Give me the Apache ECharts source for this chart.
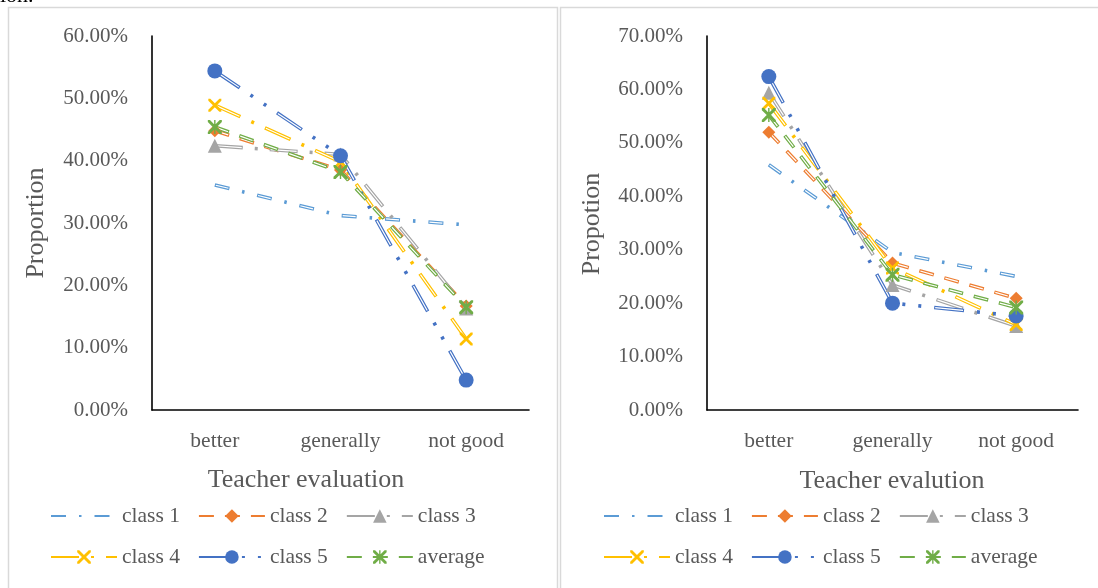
<!DOCTYPE html>
<html>
<head>
<meta charset="utf-8">
<script src="https://cdn.jsdelivr.net/npm/echarts@6/dist/echarts.min.js"></script>
<style>
html,body{margin:0;padding:0;background:#fff;}
#c{width:1098px;height:588px;}
</style>
</head>
<body>
<div id="c"></div>
<script>
// ---------- data ----------
var categories = ['better', 'generally', 'not good'];
var seriesNames = ['class 1', 'class 2', 'class 3', 'class 4', 'class 5', 'average'];

// left chart (Teacher evaluation)
var leftClass1 = [0.361, 0.312, 0.297];
var leftClass2 = [0.448, 0.385, 0.167];
var leftClass3 = [0.424, 0.410, 0.163];
var leftClass4 = [0.489, 0.398, 0.114];
var leftClass5 = [0.544, 0.408, 0.048];
var leftAverage = [0.454, 0.382, 0.165];

// right chart (Teacher evalution)
var rightClass1 = [0.459, 0.295, 0.250];
var rightClass2 = [0.520, 0.275, 0.209];
var rightClass3 = [0.594, 0.234, 0.157];
var rightClass4 = [0.574, 0.266, 0.160];
var rightClass5 = [0.624, 0.200, 0.176];
var rightAverage = [0.552, 0.253, 0.192];

var leftYTicks = [0, 0.1, 0.2, 0.3, 0.4, 0.5, 0.6];
var rightYTicks = [0, 0.1, 0.2, 0.3, 0.4, 0.5, 0.6, 0.7];

// ---------- styles ----------
var FONT = '"Liberation Serif", "Times New Roman", serif';
var TXT = '#595959';
var xPath = 'path://M0,0L3,0L10,7L17,0L20,0L20,3L13,10L20,17L20,20L17,20L10,13L3,20L0,20L0,17L7,10L0,3Z';
var starPath = 'path://M0,0L3,0L10,7L17,0L20,0L20,3L13,10L20,17L20,20L17,20L10,13L3,20L0,20L0,17L7,10L0,3Z M9,0L11,0L11,20L9,20Z';

var styles = [
  {color: '#5B9BD5', dash: [15, 13, 2.5, 13], symbol: 'none', size: 0},
  {color: '#ED7D31', dash: [15, 11], symbol: 'diamond', size: 13},
  {color: '#A5A5A5', dash: [28, 12, 3, 12], symbol: 'triangle', size: 14},
  {color: '#FFC000', dash: [28, 12, 3, 12], symbol: xPath, size: 13},
  {color: '#4472C4', dash: [30, 13, 3, 13, 3, 13], symbol: 'circle', size: 15},
  {color: '#70AD47', dash: [15, 11], symbol: starPath, size: 14}
];

function buildSeries(dataList, idx) {
  var out = [];
  dataList.forEach(function (d, i) {
    var st = styles[i];
    var period = st.dash.reduce(function (a, b) { return a + b; }, 0);
    out.push({
      name: seriesNames[i], type: 'line', xAxisIndex: idx, yAxisIndex: idx,
      data: d, symbol: st.symbol, symbolSize: st.size, showSymbol: st.symbol !== 'none',
      lineStyle: {color: st.color, width: 3.6, type: st.dash},
      itemStyle: {color: st.color, borderWidth: 0},
      emphasis: {disabled: true}, silent: true
    });
    out.push({
      name: seriesNames[i] + '_inner', type: 'line', xAxisIndex: idx, yAxisIndex: idx,
      data: d, symbol: 'none', showSymbol: false,
      lineStyle: {color: '#ffffff', width: 1.2, type: [st.dash[0] - 2, period - st.dash[0] + 2], dashOffset: period - 1},
      emphasis: {disabled: true}, silent: true
    });
  });
  return out;
}

function pct(v) { return (v * 100).toFixed(2) + '%'; }

function yAxis(idx, ticks) {
  return {
    type: 'value', gridIndex: idx, min: ticks[0], max: ticks[ticks.length - 1],
    interval: ticks[1] - ticks[0],
    axisLine: {show: true, lineStyle: {color: '#000', width: 1.6}},
    axisTick: {show: false}, splitLine: {show: false},
    axisLabel: {formatter: pct, fontFamily: FONT, fontSize: 21, color: TXT, margin: 24}
  };
}
function xAxis(idx) {
  return {
    type: 'category', gridIndex: idx, data: categories, boundaryGap: true,
    axisLine: {lineStyle: {color: '#000', width: 1.6}},
    axisTick: {show: false},
    axisLabel: {fontFamily: FONT, fontSize: 21.5, color: TXT, margin: 20}
  };
}
function legendData(names) {
  return names.map(function (n) {
    return n === 'class 1' ? {name: n, itemStyle: {opacity: 0}} : {name: n};
  });
}
function legend(left, top, names) {
  return {
    left: left, top: top, data: legendData(names), itemWidth: 66, itemHeight: 17, itemGap: 18,
    selectedMode: false,
    textStyle: {fontFamily: FONT, fontSize: 21.5, color: TXT}
  };
}

var option = {
  animation: false,
  backgroundColor: '#fff',
  grid: [
    {left: 152, top: 36, width: 377, height: 374},
    {left: 707, top: 36, width: 371, height: 374}
  ],
  xAxis: [xAxis(0), xAxis(1)],
  yAxis: [yAxis(0, leftYTicks), yAxis(1, rightYTicks)],
  legend: [
    legend(45, 500, seriesNames.slice(0, 3)),
    legend(45, 541, seriesNames.slice(3)),
    legend(598, 500, seriesNames.slice(0, 3)),
    legend(598, 541, seriesNames.slice(3))
  ],
  graphic: [
    {type: 'rect', shape: {x: 8.5, y: 7.5, width: 549, height: 620}, style: {fill: 'none', stroke: '#d9d9d9', lineWidth: 1.5}, silent: true},
    {type: 'rect', shape: {x: 560.5, y: 7.5, width: 600, height: 620}, style: {fill: 'none', stroke: '#d9d9d9', lineWidth: 1.5}, silent: true},
    {type: 'text', left: 0, top: -15, style: {text: 'ion.', font: '22px ' + FONT, fill: '#000'}, silent: true},
    {type: 'text', x: 36, y: 223, rotation: Math.PI / 2, style: {text: 'Proportion', font: '26px ' + FONT, fill: TXT, align: 'center', verticalAlign: 'middle'}, silent: true},
    {type: 'text', x: 592, y: 224, rotation: Math.PI / 2, style: {text: 'Propotion', font: '26px ' + FONT, fill: TXT, align: 'center', verticalAlign: 'middle'}, silent: true},
    {type: 'text', x: 306, y: 480, style: {text: 'Teacher evaluation', font: '26px ' + FONT, fill: TXT, align: 'center', verticalAlign: 'middle'}, silent: true},
    {type: 'text', x: 892, y: 481, style: {text: 'Teacher evalution', font: '26px ' + FONT, fill: TXT, align: 'center', verticalAlign: 'middle'}, silent: true}
  ],
  series: buildSeries([leftClass1, leftClass2, leftClass3, leftClass4, leftClass5, leftAverage], 0)
    .concat(buildSeries([rightClass1, rightClass2, rightClass3, rightClass4, rightClass5, rightAverage], 1))
};

var chart = echarts.init(document.getElementById('c'), null, {renderer: 'canvas'});
chart.setOption(option);
</script>
</body>
</html>
